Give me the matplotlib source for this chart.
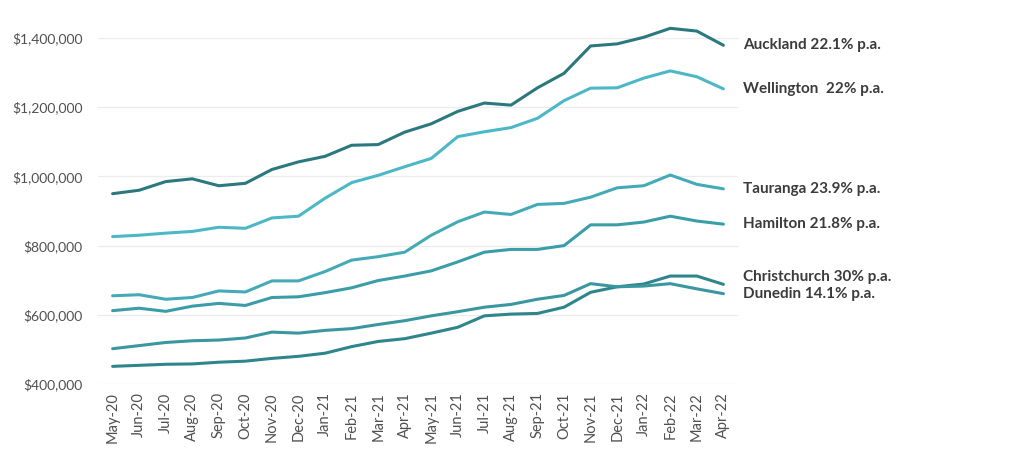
import matplotlib
matplotlib.use("Agg")
import matplotlib.pyplot as plt
from matplotlib.ticker import FuncFormatter

months = ["May-20", "Jun-20", "Jul-20", "Aug-20", "Sep-20", "Oct-20", "Nov-20", "Dec-20",
          "Jan-21", "Feb-21", "Mar-21", "Apr-21", "May-21", "Jun-21", "Jul-21", "Aug-21",
          "Sep-21", "Oct-21", "Nov-21", "Dec-21", "Jan-22", "Feb-22", "Mar-22", "Apr-22"]

auckland = [950, 960, 985, 993, 973, 980, 1020, 1042, 1058, 1090, 1092, 1128,
            1152, 1188, 1212, 1206, 1256, 1298, 1377, 1383, 1402, 1428, 1420, 1379]
wellington = [826, 830, 836, 841, 853, 850, 880, 885, 937, 982, 1003, 1028,
              1052, 1115, 1129, 1141, 1168, 1219, 1255, 1256, 1284, 1305, 1288, 1253]
tauranga = [655, 658, 645, 650, 669, 666, 698, 698, 725, 758, 768, 781,
            830, 869, 897, 890, 919, 922, 940, 967, 973, 1004, 977, 964]
hamilton = [612, 619, 610, 625, 633, 627, 650, 652, 664, 678, 699, 712,
            727, 753, 781, 789, 789, 800, 860, 860, 868, 885, 871, 862]
dunedin = [502, 511, 520, 525, 527, 533, 550, 547, 555, 560, 572, 583,
           597, 609, 622, 630, 645, 656, 690, 681, 683, 690, 675, 661]
christchurch = [451, 454, 457, 458, 463, 466, 474, 480, 489, 508, 523, 531,
                547, 564, 597, 602, 604, 622, 665, 681, 689, 712, 712, 688]

series_names = ["Auckland", "Wellington", "Tauranga", "Hamilton", "Christchurch", "Dunedin"]
series_values = [auckland, wellington, tauranga, hamilton, christchurch, dunedin]
series_labels = ["Auckland 22.1% p.a.", "Wellington  22% p.a.", "Tauranga 23.9% p.a.",
                 "Hamilton 21.8% p.a.", "Christchurch 30% p.a.", "Dunedin 14.1% p.a."]
colors = ["#2b787e", "#4cb8c7", "#45aab7", "#3a9da7", "#2f858c", "#3a979f"]
label_dy = [0, 0, 0, 0, 5.5, -0.5]

ytick_values = [400000, 600000, 800000, 1000000, 1200000, 1400000]

plt.rcParams['font.family'] = ['Lato', 'DejaVu Sans']

fig = plt.figure(figsize=(10.24, 4.73), dpi=100)
ax = fig.add_axes([98 / 1024, 1 - 384 / 473, 640 / 1024, (384 - 38) / 473])

x = list(range(len(months)))
for vals, col, lab, dy in zip(series_values, colors, series_labels, label_dy):
    y = [v * 1000 for v in vals]
    ax.plot(x, y, color=col, lw=2.2, solid_capstyle='round', zorder=3, clip_on=False)
    ax.annotate(lab, xy=(x[-1], y[-1]), xytext=(14, dy), textcoords='offset points',
                ha='left', va='center', fontsize=11, fontweight='bold',
                color='#3b3b3b', annotation_clip=False)

ax.set_xlim(-0.55, len(months) - 0.45)
ax.set_ylim(400000, 1400000)
ax.set_yticks(ytick_values)
ax.yaxis.set_major_formatter(FuncFormatter(lambda v, p: "${:,.0f}".format(v)))
ax.set_xticks(x)
ax.set_xticklabels(months, rotation=90)
ax.tick_params(axis='both', length=0, labelcolor='#505050')
ax.tick_params(axis='y', pad=11, labelsize=10)
ax.tick_params(axis='x', pad=6, labelsize=10.5)
ax.grid(axis='y', color='#ececec', lw=0.9, zorder=0)
for s in ax.spines.values():
    s.set_visible(False)

fig.savefig("out.png", dpi=100, facecolor='white')
